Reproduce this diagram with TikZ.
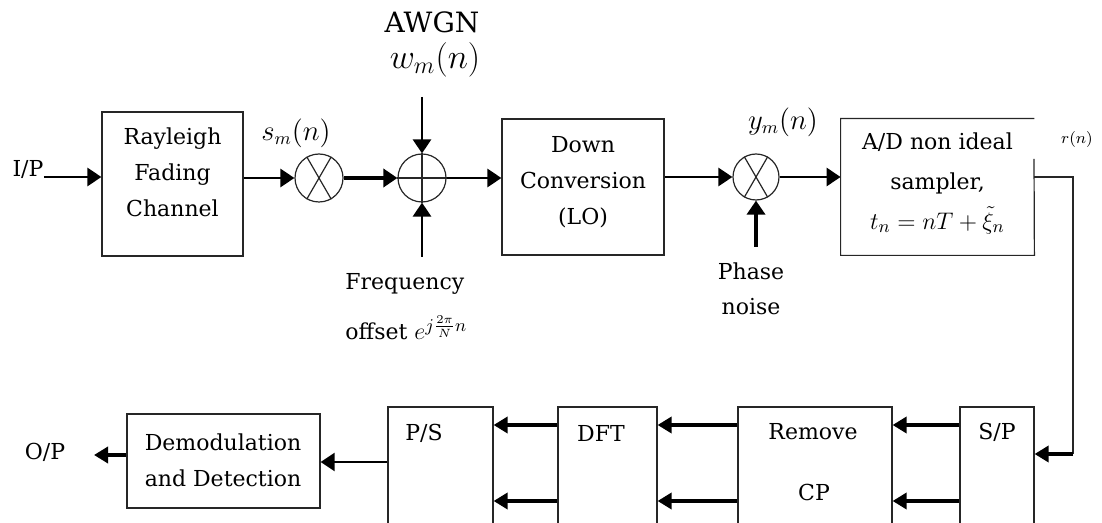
\documentclass[tikz,border=0pt]{standalone}
\usepackage{fontspec}
\setmainfont{DejaVu Serif}
\usetikzlibrary{arrows.meta}

\begin{document}
\begin{tikzpicture}[x=0.5pt, y=-0.5pt,
  blk/.style={draw=black!85, line width=0.6pt, inner sep=0pt},
  lbl/.style={font=\fontsize{11}{18}\selectfont, align=center, inner sep=0pt},
  sym/.style={font=\fontsize{13.5}{16}\selectfont, inner sep=0pt},
  mix/.style={circle, draw=black!85, line width=0.6pt, minimum size=24pt, inner sep=0pt},
  wire/.style={draw=black!85, line width=0.6pt},
  arr/.style={line width=1.4pt, -{Triangle[length=7pt,width=9pt]}},
  barr/.style={line width=2pt, -{Triangle[length=7pt,width=8pt]}}]
  \useasboundingbox (0,0) rectangle (1102,523);
  \clip (0,0) rectangle (1102,523);

  % upper chain
  \node[blk, minimum width=70.5pt, minimum height=72pt] (ray) at (172.5,184) {};
  \node[lbl] (raytxt) at (172.5,172) {Rayleigh\\Fading\\Channel};
  \node[blk, minimum width=81pt, minimum height=68pt] (down) at (583,187) {};
  \node[lbl] (downtxt) at (583,182) {Down\\Conversion\\(LO)};
  \node[inner sep=0pt, minimum width=96.5pt, minimum height=68pt] (ad) at (937.5,187) {};
  \node[lbl, font=\fontsize{11}{20}\selectfont] (adtxt) at (937.5,183) {A/D non ideal\\sampler,\\\fontsize{13}{20}\selectfont$t_n = nT + \tilde{\xi}_n$};

  \node[mix] (m1) at (319,178) {};
  \node[mix] (add) at (422,178) {};
  \node[mix, minimum size=23pt] (m2) at (756,177) {};
  \draw[wire] (m1.120) -- (m1.-60) (m1.60) -- (m1.-120);
  \draw[wire] (m2.120) -- (m2.-60) (m2.60) -- (m2.-120);
  \draw[wire] (add.north) -- (add.south) (add.west) -- (add.east);

  \node[lbl] (ip) at (28,170) {I/P};
  \node[sym] (sm) at (296,133) {$s_m(n)$};
  \node[sym] (ym) at (783,122) {$y_m(n)$};
  \node[sym, font=\footnotesize] (rn) at (1077,140) {$r(n)$};
  \node[lbl, font=\fontsize{14}{16}\selectfont] (awgn) at (432,22) {AWGN};
  \node[sym, font=\fontsize{17}{19}\selectfont] (wm) at (435,60) {$w_m(n)$};
  \node[lbl, anchor=base west] (freq) at (345,290) {Frequency};
  \node[lbl, anchor=base west] (offs) at (345,340) {offset \fontsize{13}{16}\selectfont$e^{j\frac{2\pi}{N}n}$};
  \node[lbl, font=\fontsize{11}{17.5}\selectfont] (phase) at (751,289) {Phase\\noise};

  \coordinate (nz) at (422,97);
  \coordinate (fo) at (422,257);
  \coordinate (pn) at (753,247);
  \coordinate (adcut) at (1034,159);
  \coordinate (bend) at (1073,454);

  \draw[arr] (ip.base east) -- (ip.base east -| ray.west);
  \draw[arr] (ray.east |- m1) -- (m1.west);
  \draw[arr, line width=2pt] (m1.east) -- (add.west);
  \draw[arr] (add.east) -- (down.west |- add);
  \draw[arr] (down.east |- m2) -- (m2.west);
  \draw[arr] (m2.east) -- (ad.west |- m2);
  \draw[arr] (nz) -- (add.north);
  \draw[arr] (fo) -- (add.south);
  \draw[arr, line width=2pt] (m2.south |- pn) -- (m2.south);
  \draw[wire] (ad.north east) -- (ad.north west) -- (ad.south west) -- (ad.south east) -- (adcut);
  \draw[wire] (ad.east |- m2) -| (bend);

  % lower chain
  \node[blk, minimum width=37pt, minimum height=76.5pt] (sp) at (997,483.5) {};
  \node[blk, minimum width=77pt, minimum height=76.5pt] (rcp) at (815,483.5) {};
  \node[blk, minimum width=49.5pt, minimum height=76.5pt] (dft) at (607.5,483.5) {};
  \node[blk, minimum width=52.5pt, minimum height=76.5pt] (ps) at (440.5,483.5) {};
  \node[blk, minimum width=96.5pt, minimum height=47pt] (demod) at (223.5,461) {};

  \node[lbl] (sptxt) at (997,432) {S/P};
  \node[lbl] (rcptxt) at (813,432) {Remove};
  \node[lbl] (cptxt) at (814,492) {CP};
  \node[lbl] (dfttxt) at (601,433) {DFT};
  \node[lbl] (pstxt) at (424,433) {P/S};
  \node[lbl] (demodtxt) at (223,460) {Demodulation\\and Detection};
  \node[lbl] (op) at (45,452) {O/P};

  \coordinate (row1) at (0,425);
  \coordinate (row2) at (0,501);
  \coordinate (psout) at (0,462);
  \coordinate (opend) at (94,455);

  \draw[barr] (bend) -- (sp.east |- bend);
  \foreach \r in {row1,row2} {
    \draw[barr] (sp.west |- \r) -- (rcp.east |- \r);
    \draw[barr] (rcp.west |- \r) -- (dft.east |- \r);
    \draw[barr] (dft.west |- \r) -- (ps.east |- \r);
  }
  \draw[arr, line width=1.2pt] (ps.west |- psout) -- (demod.east |- psout);
  \draw[barr] (demod.west |- opend) -- (opend);
\end{tikzpicture}
\end{document}
